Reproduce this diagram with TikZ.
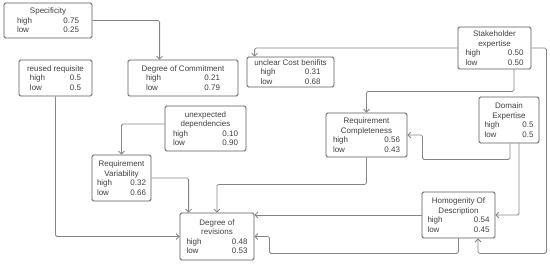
\documentclass[tikz,border=0pt]{standalone}
\usepackage{fontspec}
\setmainfont{Liberation Sans}
\usetikzlibrary{arrows.meta}
\definecolor{boxline}{HTML}{5A5A5A}
\definecolor{wire}{HTML}{858585}
\newcommand{\prow}[3]{\makebox[#1pt]{#2\hfill #3}}

\begin{document}
\begin{tikzpicture}[x=1pt, y=-1pt,
    box/.style={draw=boxline, line width=0.8pt, rounded corners=1.5pt, fill=white, align=center,
        inner xsep=2pt, inner ysep=1.5pt, font=\fontsize{8}{9.5}\selectfont, text=black!75},
    arr/.style={draw=wire, line width=0.8pt, rounded corners=1.5pt, -{Straight Barb[length=3pt,width=6pt]}}]
        \useasboundingbox (0,0) rectangle (550,263);

        % Draw nodes
        \node[box, minimum width=88, minimum height=35] (spec) at (48,20.5) {Specificity\\ \prow{62}{high}{0.75}\\ \prow{62}{low}{0.25}};
        \node[box, minimum width=73, minimum height=36] (reuse) at (55.5,78) {reused requisite\\ \prow{51}{high}{0.5}\\ \prow{51}{low}{0.5}};
        \node[box, minimum width=110, minimum height=36] (doc) at (183,78) {Degree of Commitment\\ \prow{74}{high}{0.21}\\ \prow{74}{low}{0.79}};
        \node[box, minimum width=87, minimum height=30] (ucb) at (290.5,72) {unclear Cost benifits\\ \prow{60}{high}{0.31}\\ \prow{60}{low}{0.68}};
        \node[box, minimum width=73, minimum height=42] (stake) at (494.5,48) {Stakeholder\\ expertise\\ \prow{58}{high}{0.50}\\ \prow{58}{low}{0.50}};
        \node[box, minimum width=60, minimum height=46] (dom) at (509,120) {Domain\\ Expertise\\ \prow{49}{high}{0.5}\\ \prow{49}{low}{0.5}};
        \node[box, minimum width=81, minimum height=44] (rc) at (366.5,135) {Requirement\\ Completeness\\ \prow{67}{high}{0.56}\\ \prow{67}{low}{0.43}};
        \node[box, minimum width=81, minimum height=45] (ud) at (205.5,128.5) {unexpected\\ dependencies\\ \prow{65}{high}{0.10}\\ \prow{65}{low}{0.90}};
        \node[box, minimum width=59, minimum height=46] (rv) at (121.5,178) {Requirement\\ Variability\\ \prow{49}{high}{0.32}\\ \prow{49}{low}{0.66}};
        \node[box, minimum width=73, minimum height=46] (hod) at (458.5,215) {Homogenity Of\\ Description\\ \prow{62}{high}{0.54}\\ \prow{62}{low}{0.45}};
        \node[box, minimum width=74, minimum height=47] (dor) at (217,236.5) {Degree of\\ revisions\\ \prow{61}{high}{0.48}\\ \prow{61}{low}{0.53}};

        % Draw connections
        \draw[arr] (spec.east) -| ([xshift=32pt]doc.north west);
        \draw[arr] (stake.west) -| ([xshift=8pt]ucb.north west);
        \draw[arr] (stake.east) -- ++(15,0) |- ([xshift=19.5pt,yshift=-15pt]hod.south) -- ([xshift=19.5pt]hod.south);
        \draw[arr] ([xshift=19.5pt]stake.south) -- ++(0,22) -| (rc.north);
        \draw[arr] ([xshift=1pt]dom.south) -- ++(0,16) -| ([xshift=15pt]rc.east) -- (rc.east);
        \draw[arr] ([xshift=10pt]dom.south) |- (hod.east);
        \draw[arr] (rc.south) -- ++(0,27) -| (dor.north);
        \draw[arr] (hod.west) -- (hod.west -| dor.east);
        \draw[arr] (hod.south) -- ++(0,15) -| ([xshift=15pt]dor.east) -- (dor.east);
        \draw[arr] (rv.east) -| ([xshift=9pt]dor.north west);
        \draw[arr] (reuse.south) |- (dor.west);
        \draw[arr] ([yshift=4.5pt]ud.west) -| (rv.north);
\end{tikzpicture}
\end{document}
